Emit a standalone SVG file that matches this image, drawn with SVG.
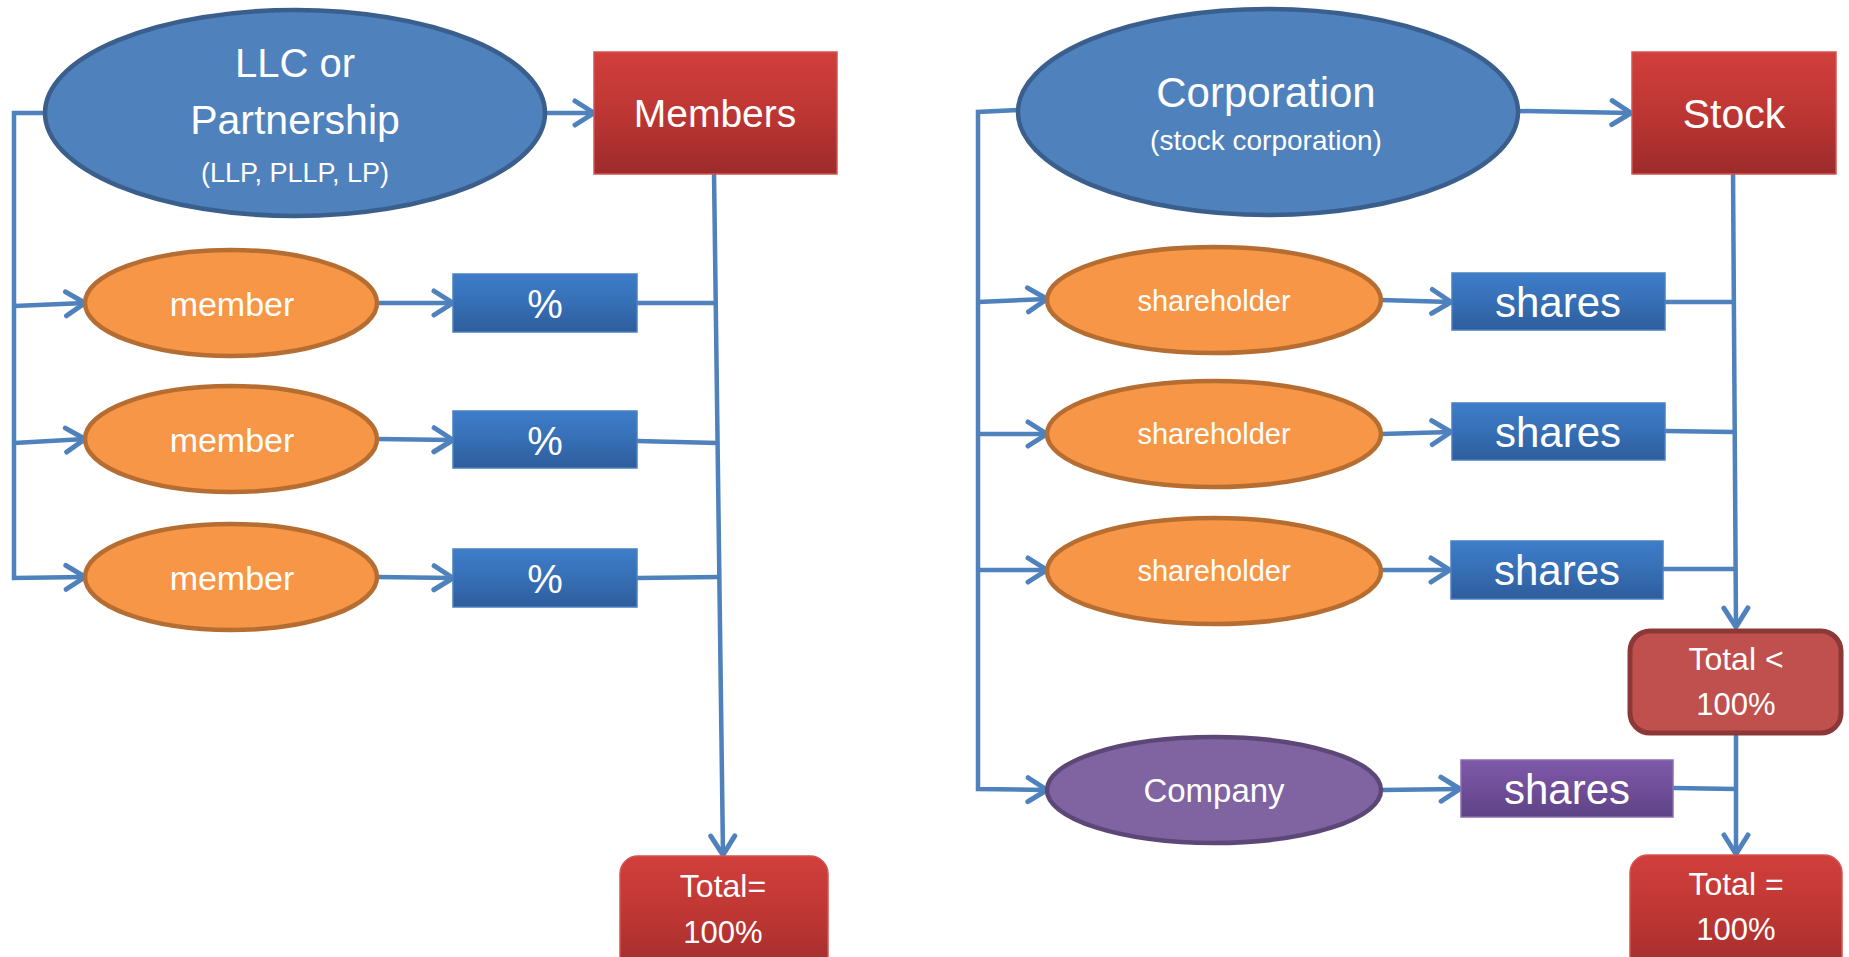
<svg xmlns="http://www.w3.org/2000/svg" width="1849" height="957" viewBox="0 0 1849 957">
<defs>
  <linearGradient id="gRed" x1="0" y1="0" x2="0" y2="1">
    <stop offset="0" stop-color="#d13f3c"/>
    <stop offset="0.5" stop-color="#bd3633"/>
    <stop offset="1" stop-color="#9d2b2b"/>
  </linearGradient>
  <linearGradient id="gBlue" x1="0" y1="0" x2="0" y2="1">
    <stop offset="0" stop-color="#3e7dca"/>
    <stop offset="0.5" stop-color="#366fb5"/>
    <stop offset="1" stop-color="#2e5d9c"/>
  </linearGradient>
  <linearGradient id="gPurple" x1="0" y1="0" x2="0" y2="1">
    <stop offset="0" stop-color="#7e59a8"/>
    <stop offset="0.5" stop-color="#704e98"/>
    <stop offset="1" stop-color="#5d4285"/>
  </linearGradient>
  <marker id="arr" markerUnits="userSpaceOnUse" markerWidth="40" markerHeight="40" refX="0" refY="0" orient="auto" style="overflow:visible">
    <path d="M-19,-12 L0,0 L-19,12" fill="none" stroke="#4f81bd" stroke-width="5" stroke-linecap="round" stroke-linejoin="round"/>
  </marker>
  <style>
    text { font-family: "Liberation Sans", Arial, sans-serif; fill: #ffffff; text-anchor: middle; }
    .big { fill: #4f81bd; stroke: #3a5f8c; stroke-width: 4.5; }
    .org { fill: #f79646; stroke: #b66d31; stroke-width: 4.5; }
    .pur { fill: #8064a2; stroke: #5c4776; stroke-width: 4.5; }
    .redbox { fill: url(#gRed); stroke: #d35450; stroke-width: 1.5; }
    .bluebox { fill: url(#gBlue); stroke: #4a80c0; stroke-width: 1.5; }
    .purbox { fill: url(#gPurple); stroke: #8a6cb0; stroke-width: 1.5; }
    .lt { fill: #c0504d; stroke: #8c3836; stroke-width: 5; }
    .c { fill: none; stroke: #4f81bd; stroke-width: 4.5; stroke-linejoin: miter; }
    .a { marker-end: url(#arr); }
  </style>
</defs>

<g id="connectors">
  <!-- left side -->
  <path class="c a" d="M546,113 L594,113"/>
  <path class="c a" d="M46,113 L14,113 L14,578 L85,577"/>
  <path class="c a" d="M14,306 L85,303"/>
  <path class="c a" d="M14,443 L85,439"/>
  <path class="c a" d="M377,303 L453,303"/>
  <path class="c a" d="M377,439 L453,440"/>
  <path class="c a" d="M377,577 L453,578"/>
  <path class="c" d="M637,303 L716,303"/>
  <path class="c" d="M637,441 L718,443"/>
  <path class="c" d="M637,578 L720,577"/>
  <path class="c a" d="M714,172 L723,855"/>
  <!-- right side -->
  <path class="c a" d="M1518,111 L1631,113"/>
  <path class="c a" d="M1018,110 L978,112 L978,789 L1047,790"/>
  <path class="c a" d="M978,302 L1047,299"/>
  <path class="c a" d="M978,434 L1047,434"/>
  <path class="c a" d="M978,570 L1047,570"/>
  <path class="c a" d="M1381,300 L1451,302"/>
  <path class="c a" d="M1381,434 L1451,432"/>
  <path class="c a" d="M1381,570 L1450,570"/>
  <path class="c a" d="M1381,790 L1460,789"/>
  <path class="c" d="M1665,302 L1733,302"/>
  <path class="c" d="M1665,431 L1733,432"/>
  <path class="c" d="M1663,569 L1734,569"/>
  <path class="c" d="M1673,788 L1736,789"/>
  <path class="c a" d="M1733,170 L1736,627"/>
  <path class="c a" d="M1736,734 L1736,854"/>
</g>

<g id="llc">
  <ellipse class="big" cx="295" cy="113" rx="250" ry="103"/>
  <text x="295" y="77" font-size="40">LLC or</text>
  <text x="295" y="134" font-size="41">Partnership</text>
  <text x="295" y="182" font-size="27">(LLP, PLLP, LP)</text>
</g>
<g id="members">
  <rect class="redbox" x="594" y="52" width="243" height="122"/>
  <text x="715" y="127" font-size="39">Members</text>
</g>
<g id="member1">
  <ellipse class="org" cx="231" cy="303" rx="146" ry="53"/>
  <text x="232" y="316" font-size="34">member</text>
</g>
<g id="member2">
  <ellipse class="org" cx="231" cy="439" rx="146" ry="53"/>
  <text x="232" y="452" font-size="34">member</text>
</g>
<g id="member3">
  <ellipse class="org" cx="231" cy="577" rx="146" ry="53"/>
  <text x="232" y="590" font-size="34">member</text>
</g>
<g id="pct1">
  <rect class="bluebox" x="453" y="274" width="184" height="58"/>
  <text x="545" y="318" font-size="40">%</text>
</g>
<g id="pct2">
  <rect class="bluebox" x="453" y="411" width="184" height="57"/>
  <text x="545" y="455" font-size="40">%</text>
</g>
<g id="pct3">
  <rect class="bluebox" x="453" y="549" width="184" height="58"/>
  <text x="545" y="593" font-size="40">%</text>
</g>
<g id="totalLeft">
  <rect class="redbox" x="620" y="856" width="208" height="125" rx="18"/>
  <text x="723" y="897" font-size="32">Total=</text>
  <text x="723" y="943" font-size="31">100%</text>
</g>

<g id="corporation">
  <ellipse class="big" cx="1268" cy="112" rx="250" ry="103"/>
  <text x="1266" y="107" font-size="42">Corporation</text>
  <text x="1266" y="150" font-size="28">(stock corporation)</text>
</g>
<g id="stock">
  <rect class="redbox" x="1632" y="52" width="204" height="122"/>
  <text x="1734" y="128" font-size="41">Stock</text>
</g>
<g id="shareholder1">
  <ellipse class="org" cx="1214" cy="300" rx="167" ry="53"/>
  <text x="1214" y="311" font-size="29">shareholder</text>
</g>
<g id="shareholder2">
  <ellipse class="org" cx="1214" cy="434" rx="167" ry="53"/>
  <text x="1214" y="444" font-size="29">shareholder</text>
</g>
<g id="shareholder3">
  <ellipse class="org" cx="1214" cy="571" rx="167" ry="53"/>
  <text x="1214" y="581" font-size="29">shareholder</text>
</g>
<g id="company">
  <ellipse class="pur" cx="1214" cy="790" rx="167" ry="53"/>
  <text x="1214" y="802" font-size="33">Company</text>
</g>
<g id="shares1">
  <rect class="bluebox" x="1452" y="273" width="213" height="57"/>
  <text x="1558" y="317" font-size="42">shares</text>
</g>
<g id="shares2">
  <rect class="bluebox" x="1452" y="403" width="213" height="57"/>
  <text x="1558" y="447" font-size="42">shares</text>
</g>
<g id="shares3">
  <rect class="bluebox" x="1451" y="541" width="212" height="58"/>
  <text x="1557" y="585" font-size="42">shares</text>
</g>
<g id="sharesCompany">
  <rect class="purbox" x="1461" y="760" width="212" height="57"/>
  <text x="1567" y="804" font-size="42">shares</text>
</g>
<g id="totalLess">
  <rect class="lt" x="1630" y="631" width="211" height="102" rx="20"/>
  <text x="1736" y="670" font-size="32">Total &lt;</text>
  <text x="1736" y="715" font-size="31">100%</text>
</g>
<g id="totalRight">
  <rect class="redbox" x="1630" y="855" width="212" height="125" rx="18"/>
  <text x="1736" y="895" font-size="32">Total =</text>
  <text x="1736" y="940" font-size="31">100%</text>
</g>
</svg>
